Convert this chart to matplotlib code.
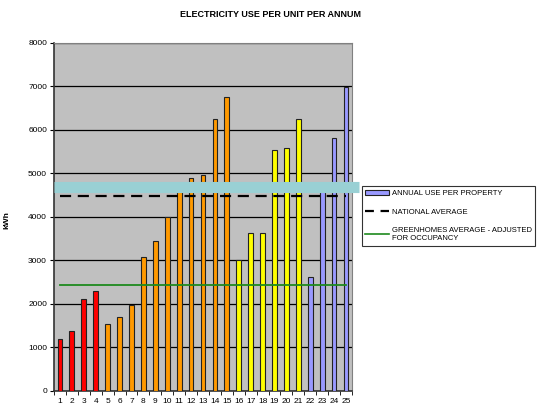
import numpy as np
import matplotlib.pyplot as plt
from matplotlib.patches import Patch
from matplotlib.lines import Line2D

plt.rcParams['font.family'] = ['Liberation Sans', 'DejaVu Sans']

# annual electricity use per property (kWh)
units = list(range(1, 26))
usage = [1200, 1390, 2110, 2290, 1550, 1710, 1980, 3090, 3450, 3990,
         4620, 4900, 4960, 6250, 6750, 3020, 3620, 3630, 5540, 5580,
         6260, 2610, 4620, 5810, 6980]
bar_colors = (['#FF0000'] * 4 + ['#FF9900'] * 11 + ['#FFFF00'] * 6
              + ['#9999FF'] * 4)

band_level = 4690        # highlighted band
national_avg = 4490
greenhomes_avg = 2430

fig = plt.figure(figsize=(5.42, 4.05), dpi=100)
ax = fig.add_axes([0.0996, 0.0346, 0.5498, 0.8594])
ax.set_facecolor('#C0C0C0')

x = np.array(units)
ax.bar(x, usage, width=0.4, color=bar_colors, edgecolor='#222222',
       linewidth=0.8, zorder=3)

# reference lines
ax.plot([0.5, 26.1], [band_level, band_level], color='#99D0D4',
        linewidth=8, solid_capstyle='butt', zorder=4, clip_on=False)
ax.plot([1, 25], [national_avg, national_avg], color='black',
        linewidth=1.6, dashes=(5, 3), zorder=5)
ax.plot([1, 25], [greenhomes_avg, greenhomes_avg], color='#1E8A1E',
        linewidth=1.3, zorder=5)

ax.set_xlim(0.5, 25.5)
ax.set_ylim(0, 8000)
ax.set_yticks(range(0, 8001, 1000))
ax.yaxis.grid(True, color='black', linewidth=0.9, zorder=0)
ax.set_axisbelow(True)

ax.set_xticks(x)
ax.set_xticklabels([str(u) for u in units], fontsize=6)
ax.set_xticks(np.arange(0.5, 26, 1), minor=True)
ax.tick_params(axis='x', which='major', length=0, pad=5)
ax.tick_params(axis='x', which='minor', length=3, direction='out')
ax.tick_params(axis='y', labelsize=6, length=3, direction='out', pad=2)

for side in ['top', 'right']:
    ax.spines[side].set_color('#808080')
for side in ['left', 'bottom']:
    ax.spines[side].set_color('#333333')
    ax.spines[side].set_linewidth(1.2)

ax.set_ylabel('kWh', fontsize=6, fontweight='bold')
ax.yaxis.set_label_coords(-0.145, 0.49)
fig.text(0.5, 0.965, 'ELECTRICITY USE PER UNIT PER ANNUM', ha='center',
         va='center', fontsize=6.5, fontweight='bold')

handles = [
    Patch(facecolor='#9999FF', edgecolor='#222222', linewidth=0.8),
    Line2D([], [], color='black', linewidth=1.6, dashes=(4, 3)),
    Line2D([], [], color='#1E8A1E', linewidth=1.2),
]
labels = ['ANNUAL USE PER PROPERTY', 'NATIONAL AVERAGE',
          'GREENHOMES AVERAGE - ADJUSTED\nFOR OCCUPANCY']
leg = fig.legend(handles, labels, loc='upper left',
                 bbox_to_anchor=(0.66, 0.55), fontsize=5.5, frameon=True,
                 fancybox=False, edgecolor='black', handlelength=3.2,
                 labelspacing=1.5, borderpad=0.45, handletextpad=0.3)
leg.get_frame().set_linewidth(0.8)

fig.savefig('out.png', dpi=100)
